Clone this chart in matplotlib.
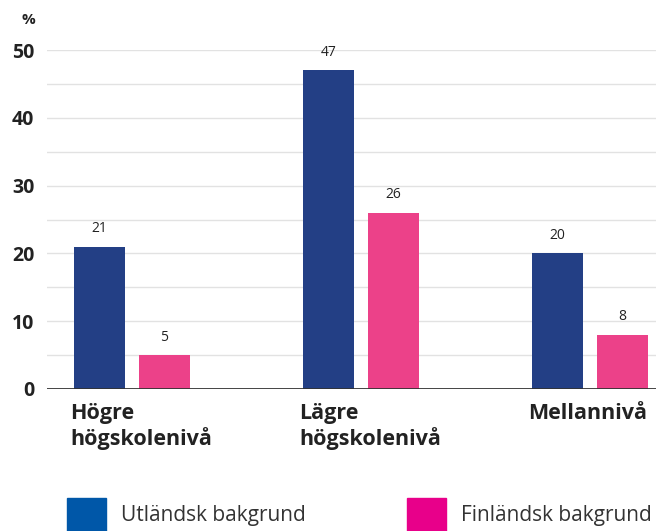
import matplotlib.pyplot as plt
import numpy as np
from matplotlib.patches import Rectangle

# data
categories = ["Högre\nhögskolenivå", "Lägre\nhögskolenivå", "Mellannivå"]
utlandsk = [21, 47, 20]
finlandsk = [5, 26, 8]
series_names = ["Utländsk bakgrund", "Finländsk bakgrund"]
yticks = [0, 10, 20, 30, 40, 50]

plt.rcParams['font.family'] = ['Open Sans', 'DejaVu Sans']

fig = plt.figure(figsize=(6.56, 5.31), dpi=100)
W, H = 656, 531
ax = fig.add_axes([47 / W, (H - 389) / H, 1 - 47 / W, (389 - 50) / H])

x = np.arange(len(categories))
w = 51 / 229
off = 32.5 / 229

b1 = ax.bar(x - off, utlandsk, w, color="#233f85", zorder=3)
b2 = ax.bar(x + off, finlandsk, w, color="#ec4189", zorder=3)

# value labels
for bars, vals in [(b1, utlandsk), (b2, finlandsk)]:
    for r, v in zip(bars, vals):
        ax.annotate(str(v), (r.get_x() + r.get_width() / 2, v),
                    xytext=(0, 13), textcoords="offset points",
                    ha="center", va="center", fontsize=10, color="#222222")

ax.set_xlim(-(132 - 47) / 229, (656 - 132) / 229)
ax.set_ylim(0, 50)

# grid every 5
for g in np.arange(5, 51, 5):
    ax.axhline(g, color="#e2e2e2", lw=1, zorder=1)
ax.axhline(0, color="#333333", lw=2, zorder=4)

for s in ax.spines.values():
    s.set_visible(False)
ax.set_xticks([])
ax.set_yticks(yticks)
ax.set_yticklabels([str(t) for t in yticks], fontsize=14, fontweight="bold", color="#222222")
ax.tick_params(axis="y", length=0, pad=9)

fig.text(28 / W, 1 - 20 / H, "%", fontsize=11, fontweight="bold", color="#222222",
         ha="center", va="center")

# category labels
for i, c in enumerate(categories):
    ax.text(i - off - w / 2 - 4 / 229, -2.0, c, ha="left", va="top",
            fontsize=15.5, fontweight="bold", color="#222222", linespacing=1.2)

# legend
leg_colors = ["#0057a8", "#e8008a"]
leg_x = [67, 407]
for lx, col, name in zip(leg_x, leg_colors, series_names):
    fig.patches.append(Rectangle((lx / W, 0), 39 / W, 33 / H, transform=fig.transFigure,
                                 color=col, figure=fig))
    fig.text((lx + 54) / W, 1 - 516 / H, name, fontsize=15, color="#333333",
             ha="left", va="center")

fig.savefig("out.png", dpi=100)
